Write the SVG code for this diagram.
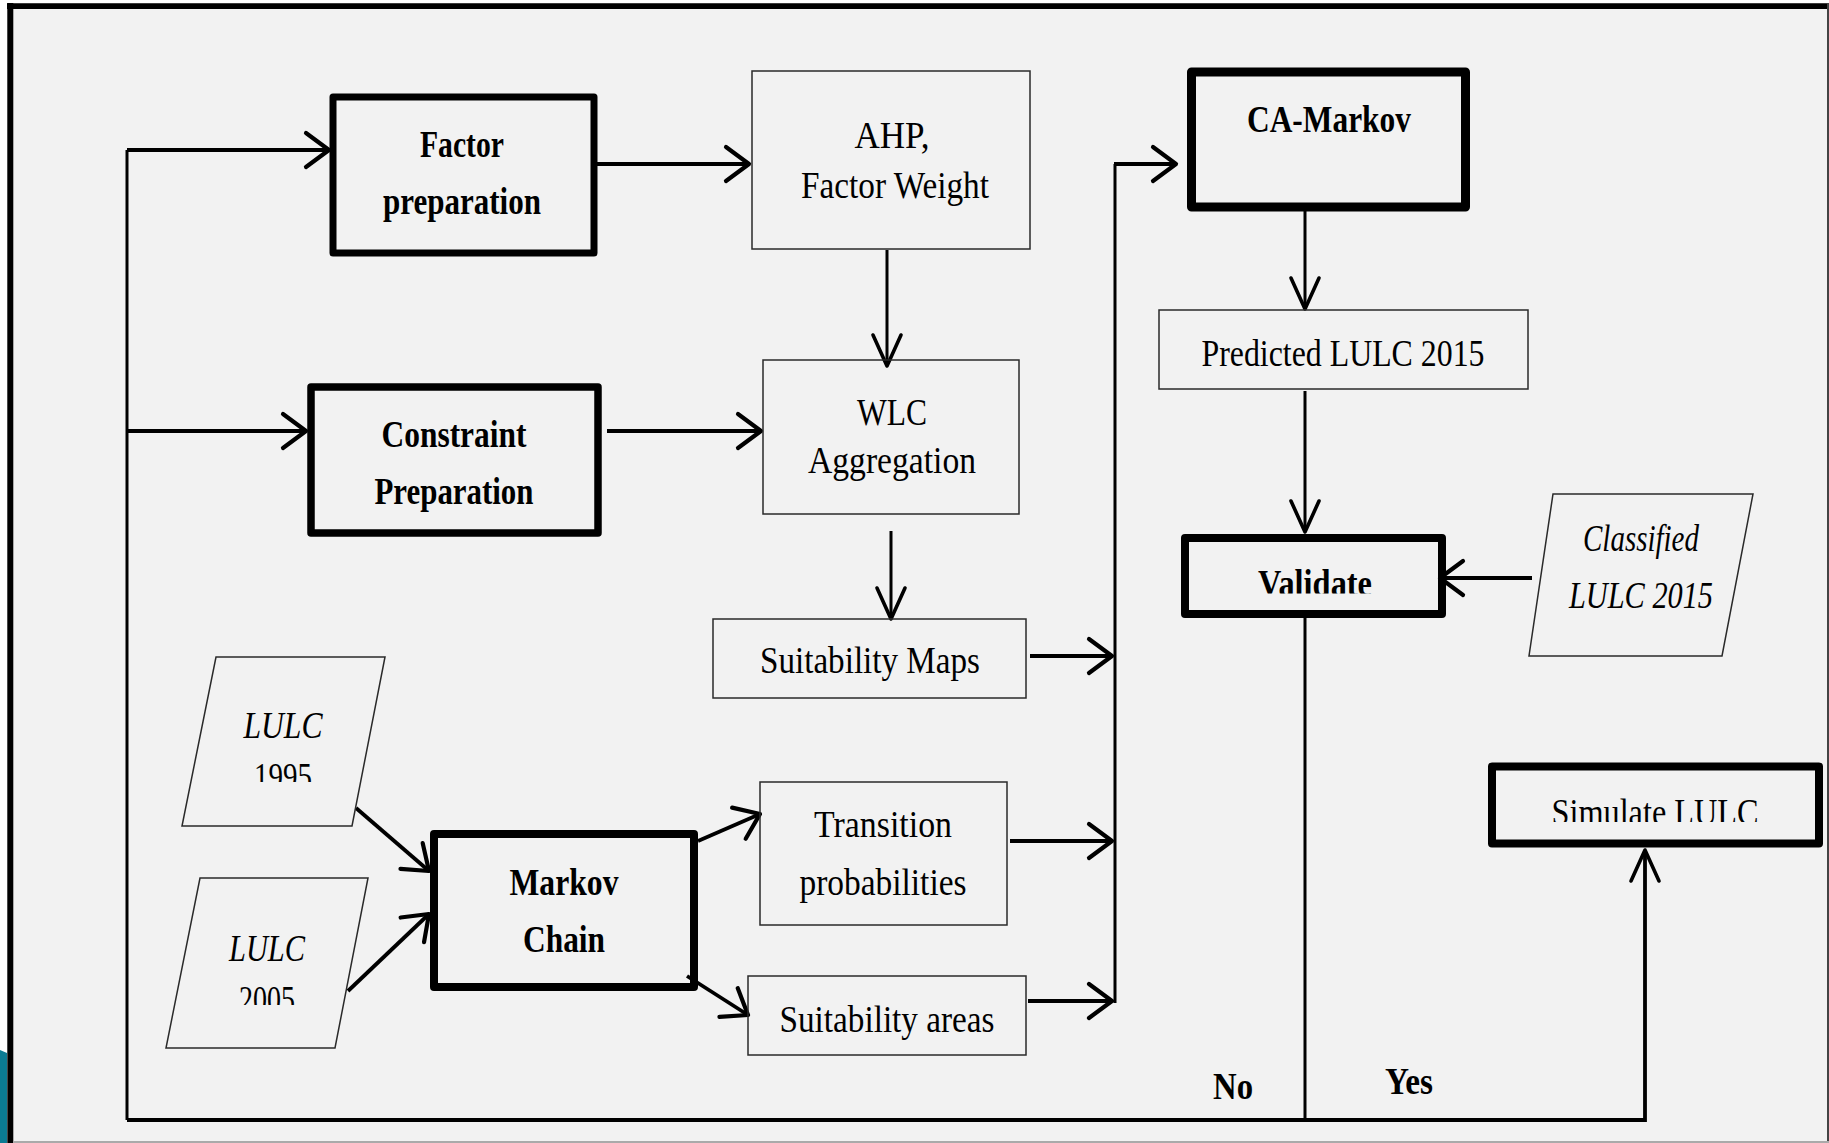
<svg xmlns="http://www.w3.org/2000/svg" width="1829" height="1143" viewBox="0 0 1829 1143">
<style>
.thick{fill:none;stroke:#000;stroke-linejoin:round}
.thin{fill:none;stroke:#2a2a2a;stroke-width:1.5}
.t{font-family:"Liberation Serif",serif;font-size:37px;fill:#000;text-anchor:middle}
.b{font-weight:bold}
.i{font-style:italic}
.h{fill:none;stroke:#000;stroke-width:3.8}
.v{fill:none;stroke:#000;stroke-width:3}
.aw{marker-end:url(#aw)}
.an{marker-end:url(#an)}
</style>
<defs>
<marker id="aw" markerUnits="userSpaceOnUse" viewBox="-30 -22 34 44" markerWidth="34" markerHeight="44" refX="0" refY="0" orient="auto" overflow="visible">
<path d="M-23 -17 L0 0 L-23 17" fill="none" stroke="#000" stroke-width="4.2" stroke-linecap="round" stroke-linejoin="round"/>
</marker>
<marker id="an" markerUnits="userSpaceOnUse" viewBox="-36 -18 40 36" markerWidth="40" markerHeight="36" refX="0" refY="0" orient="auto" overflow="visible">
<path d="M-31 -14 L0 0 L-31 14" fill="none" stroke="#000" stroke-width="3.6" stroke-linecap="round" stroke-linejoin="round"/>
</marker>
<clipPath id="cV"><rect x="1190" y="540" width="250" height="53.5"/></clipPath>
<clipPath id="cS"><rect x="1497" y="770" width="320" height="52"/></clipPath>
<clipPath id="c95"><rect x="200" y="745" width="160" height="37"/></clipPath>
<clipPath id="c05"><rect x="180" y="968" width="160" height="37"/></clipPath>
</defs>

<g id="frame">
<rect x="0" y="0" width="1829" height="1143" fill="#ffffff"/>
<rect x="7" y="3" width="1822" height="1140" fill="#f2f2f2"/>
<polygon points="0,1050 7,1053 7,1143 0,1143" fill="#0b7b93"/>
<line x1="7" y1="6.2" x2="1829" y2="6.2" stroke="#000" stroke-width="5.7"/>
<line x1="10.3" y1="3" x2="10.3" y2="1143" stroke="#000" stroke-width="6"/>
<line x1="1828" y1="3" x2="1828" y2="1143" stroke="#444" stroke-width="2"/>
<line x1="13" y1="1142" x2="1829" y2="1142" stroke="#aaa" stroke-width="2"/>
</g>

<g id="connectors">
<path class="v" d="M1305 618 V1118"/>
<path class="h an" d="M127 1120 H1645 V850"/>
<path class="v" d="M127 1120 V150"/>
<path class="h aw" d="M127 150 H329"/>
<path class="h aw" d="M127 431 H306"/>
<path class="h aw" d="M594 164 H749"/>
<path class="h aw" d="M607 431 H761"/>
<path class="v an" d="M887 250 V366"/>
<path class="v an" d="M891 531 V619"/>
<path class="h aw" d="M1030 656 H1112"/>
<path class="h aw" d="M1010 841 H1112"/>
<path class="h aw" d="M1028 1001 H1112"/>
<path class="v" d="M1115 1003 V164"/>
<path class="h aw" d="M1114 164 H1176"/>
<path class="v an" d="M1305 211 V309"/>
<path class="v an" d="M1305 391 V532"/>
<path class="h aw" d="M1532 578 H1440"/>
<path class="h aw" d="M356 808 L429 871"/>
<path class="h aw" d="M348 991 L429 914"/>
<path class="h aw" d="M698 841 L760 814"/>
<path class="h aw" d="M687 976 L748 1015"/>
<text class="t b" x="1233" y="1099" textLength="40" lengthAdjust="spacingAndGlyphs">No</text>
<text class="t b" x="1409" y="1094" textLength="48" lengthAdjust="spacingAndGlyphs">Yes</text>
</g>

<g id="factor">
<rect class="thick" x="333" y="97" width="261" height="156" stroke-width="7"/>
<text class="t b" x="462" y="157" textLength="84" lengthAdjust="spacingAndGlyphs">Factor</text>
<text class="t b" x="462" y="214" textLength="158" lengthAdjust="spacingAndGlyphs">preparation</text>
</g>

<g id="constraint">
<rect class="thick" x="311" y="387" width="287" height="146" stroke-width="7.5"/>
<text class="t b" x="454" y="447" textLength="145" lengthAdjust="spacingAndGlyphs">Constraint</text>
<text class="t b" x="454" y="504" textLength="159" lengthAdjust="spacingAndGlyphs">Preparation</text>
</g>

<g id="ahp">
<rect class="thin" x="752" y="71" width="278" height="178"/>
<text class="t" x="892" y="148" textLength="75" lengthAdjust="spacingAndGlyphs">AHP,</text>
<text class="t" x="895" y="198" textLength="188" lengthAdjust="spacingAndGlyphs">Factor Weight</text>
</g>

<g id="wlc">
<rect class="thin" x="763" y="360" width="256" height="154"/>
<text class="t" x="892" y="425" textLength="70" lengthAdjust="spacingAndGlyphs">WLC</text>
<text class="t" x="892" y="473" textLength="168" lengthAdjust="spacingAndGlyphs">Aggregation</text>
</g>

<g id="suitability-maps">
<rect class="thin" x="713" y="619" width="313" height="79"/>
<text class="t" x="870" y="673" textLength="220" lengthAdjust="spacingAndGlyphs">Suitability Maps</text>
</g>

<g id="lulc1995">
<polygon class="thin" points="216,657 385,657 352,826 182,826"/>
<text class="t i" x="283" y="738" textLength="79" lengthAdjust="spacingAndGlyphs">LULC</text>
<text class="t" x="283" y="789" textLength="58" lengthAdjust="spacingAndGlyphs" clip-path="url(#c95)">1995</text>
</g>

<g id="lulc2005">
<polygon class="thin" points="200,878 368,878 335,1048 166,1048"/>
<text class="t i" x="267" y="961" textLength="76" lengthAdjust="spacingAndGlyphs">LULC</text>
<text class="t" x="267" y="1012" textLength="56" lengthAdjust="spacingAndGlyphs" clip-path="url(#c05)">2005</text>
</g>

<g id="markov-chain">
<rect class="thick" x="434" y="834" width="260" height="153" stroke-width="8"/>
<text class="t b" x="564" y="895" textLength="109" lengthAdjust="spacingAndGlyphs">Markov</text>
<text class="t b" x="564" y="952" textLength="82" lengthAdjust="spacingAndGlyphs">Chain</text>
</g>

<g id="transition">
<rect class="thin" x="760" y="782" width="247" height="143"/>
<text class="t" x="883" y="837" textLength="138" lengthAdjust="spacingAndGlyphs">Transition</text>
<text class="t" x="883" y="895" textLength="167" lengthAdjust="spacingAndGlyphs">probabilities</text>
</g>

<g id="suitability-areas">
<rect class="thin" x="748" y="976" width="278" height="79"/>
<text class="t" x="887" y="1032" textLength="215" lengthAdjust="spacingAndGlyphs">Suitability areas</text>
</g>

<g id="ca-markov">
<rect class="thick" x="1191.5" y="72" width="274" height="135" stroke-width="9"/>
<text class="t b" x="1329" y="132" textLength="164" lengthAdjust="spacingAndGlyphs">CA-Markov</text>
</g>

<g id="predicted">
<rect class="thin" x="1159" y="310" width="369" height="79"/>
<text class="t" x="1343" y="366" textLength="283" lengthAdjust="spacingAndGlyphs">Predicted LULC 2015</text>
</g>

<g id="validate">
<rect class="thick" x="1185" y="538" width="257" height="76" stroke-width="8"/>
<text class="t b" x="1315" y="595.5" textLength="114" lengthAdjust="spacingAndGlyphs" clip-path="url(#cV)">Validate</text>
</g>

<g id="classified">
<polygon class="thin" points="1553,494 1753,494 1722,656 1529,656"/>
<text class="t i" x="1641" y="551" textLength="116" lengthAdjust="spacingAndGlyphs">Classified</text>
<text class="t i" x="1641" y="608" textLength="144" lengthAdjust="spacingAndGlyphs">LULC 2015</text>
</g>

<g id="simulate">
<rect class="thick" x="1492" y="766.5" width="327" height="77" stroke-width="8"/>
<text class="t" x="1655" y="824.5" textLength="207" lengthAdjust="spacingAndGlyphs" clip-path="url(#cS)">Simulate LULC</text>
</g>
</svg>
